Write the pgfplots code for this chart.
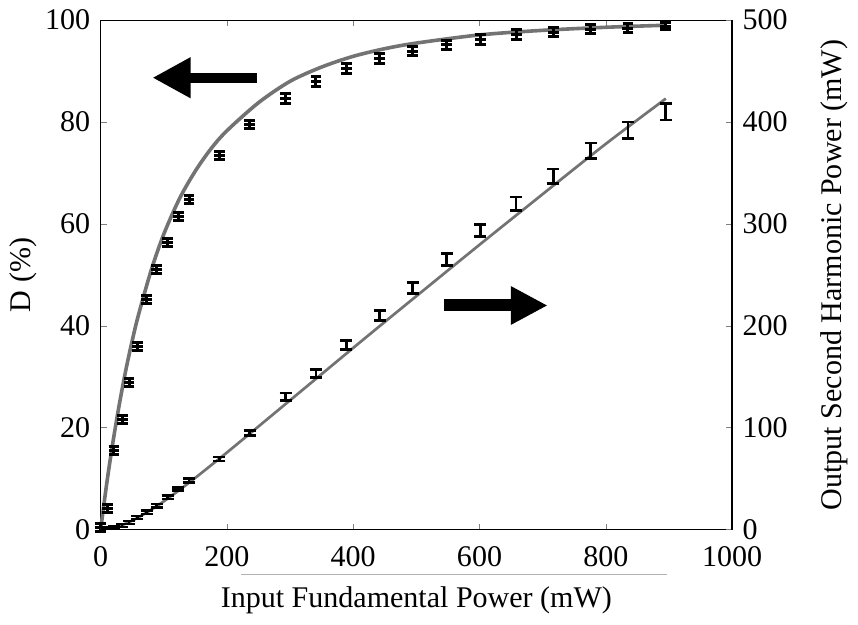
\documentclass[border=0pt]{standalone}
\usepackage{fontspec}
\setmainfont{Liberation Serif}
\usepackage{pgfplots}
\pgfplotsset{compat=1.18}
\usetikzlibrary{arrows.meta}

\begin{document}
\begin{tikzpicture}
\pgfplotsset{
  common/.style={
    width=210.3pt, height=169.7pt, scale only axis,
    xmin=0, xmax=1000,
    tick align=inside, major tick length=2pt,
    /pgf/number format/assume math mode=true,
    /pgf/number format/set thousands separator={},
    tick label style={font=\fontsize{10}{12}\selectfont},
    label style={font=\fontsize{10}{12}\selectfont},
  }
}
\begin{axis}[common, clip=false,
  ymin=0, ymax=100, ytick={0,20,...,100},
  xtick={0,200,...,1000}, xtick pos=both, xticklabel pos=lower,
  xticklabel style={yshift=-2pt},
  ytick pos=left,
  xlabel={Input Fundamental Power (mW)},
  ylabel={D (\%)},
  every axis x label/.style={at={(axis description cs:0.5,-0.139)}, anchor=center},
  every axis y label/.style={at={(axis description cs:-0.122,0.5)}, anchor=center, rotate=90},
]
% fitted curve (D)
\addplot[black!55, line width=1.2pt, smooth] coordinates {
(0,0) (10,9.4) (20,17.6) (30,24.9) (40,31.4) (50,37.1) (60,42.2) (80,50.9)
(100,58.0) (125,65.0) (150,70.4) (175,74.8) (200,78.3) (250,83.8) (300,88.0)
(350,90.8) (400,92.9) (450,94.4) (500,95.5) (600,97.1) (700,98.0) (800,98.6) (895,99.0)};
% data D
\addplot[black, only marks, mark=-, mark size=1.8pt, mark options={line width=1pt},
  error bars/.cd, y dir=both, y explicit,
  error bar style={line width=1pt, black},
  error mark options={mark size=1.8pt, line width=1pt, rotate=90}]
coordinates {
(0,0.5) +- (0,0.8)
(11,4.2) +- (0,0.8)
(21,15.5) +- (0,0.8)
(34,21.7) +- (0,0.8)
(45,28.9) +- (0,0.8)
(58,36.0) +- (0,0.8)
(73,45.1) +- (0,0.8)
(89,51.0) +- (0,0.8)
(106,56.3) +- (0,0.8)
(123,61.5) +- (0,0.8)
(140,64.8) +- (0,0.8)
(188,73.5) +- (0,0.8)
(236,79.6) +- (0,0.8)
(293,84.6) +- (0,1.0)
(341,87.9) +- (0,1.0)
(389,90.5) +- (0,1.0)
(442,92.5) +- (0,1.0)
(494,93.9) +- (0,0.9)
(548,95.2) +- (0,0.9)
(601,96.2) +- (0,0.9)
(658,97.2) +- (0,1.0)
(717,97.6) +- (0,0.9)
(776,98.2) +- (0,0.9)
(835,98.4) +- (0,0.9)
(895,98.8) +- (0,0.7)};
\draw[black, line width=3.3pt, -{Triangle[length=12.7pt, width=12.7pt]}] (axis cs:247,88.7) -- (axis cs:82,88.7);
\draw[black, line width=4pt, -{Triangle[length=12.3pt, width=12pt]}] (axis cs:544,44) -- (axis cs:708,44);
\draw[black!30, line width=0.5pt] (axis description cs:0.222,-0.088) -- (axis description cs:0.897,-0.088);
\end{axis}

\begin{axis}[common,
  ymin=0, ymax=500, ytick={0,100,...,500},
  axis x line=none, axis y line*=right,
  ylabel={Output Second Harmonic Power (mW)},
  every axis y label/.style={at={(axis description cs:1.162,0.5)}, anchor=center, rotate=90},
]
% fitted curve (SH power)
\addplot[black!55, line width=0.9pt, smooth] coordinates {
(0,0) (10,0.45) (20,1.69) (30,3.59) (40,6.03) (50,8.90) (60,12.15) (80,19.55)
(100,27.84) (125,39.06) (150,50.90) (175,63.25) (200,75.74) (250,101.3) (300,127.0)
(350,152.7) (400,178.4) (450,203.9) (500,229.2) (600,279.6) (700,329.3) (800,378.6) (895,423)};
% data SH power
\addplot[black, only marks, mark=-, mark size=0.01pt,
  error bars/.cd, y dir=both, y explicit,
  error bar style={line width=0.9pt, black},
  error mark options={mark size=2pt, line width=0.9pt, rotate=90}]
coordinates {
(0,0) +- (0,1.5)
(11,0.5) +- (0,1.5)
(21,1.5) +- (0,1.5)
(34,4) +- (0,1.5)
(45,7) +- (0,1.5)
(58,12) +- (0,1.5)
(73,17) +- (0,1.5)
(89,23.6) +- (0,1.5)
(106,31.7) +- (0,1.5)
(123,40) +- (0,1.5)
(140,48) +- (0,2)
(188,69.4) +- (0,2)
(236,94.6) +- (0,2.5)
(293,130.6) +- (0,3.5)
(341,153) +- (0,4)
(389,181) +- (0,4.5)
(442,210) +- (0,5)
(494,237) +- (0,5.5)
(548,265) +- (0,6)
(601,293.7) +- (0,6)
(658,320) +- (0,6.5)
(717,347) +- (0,7)
(776,372) +- (0,7.5)
(835,392) +- (0,8)
(895,410) +- (0,8)};
\end{axis}
\end{tikzpicture}
\end{document}
